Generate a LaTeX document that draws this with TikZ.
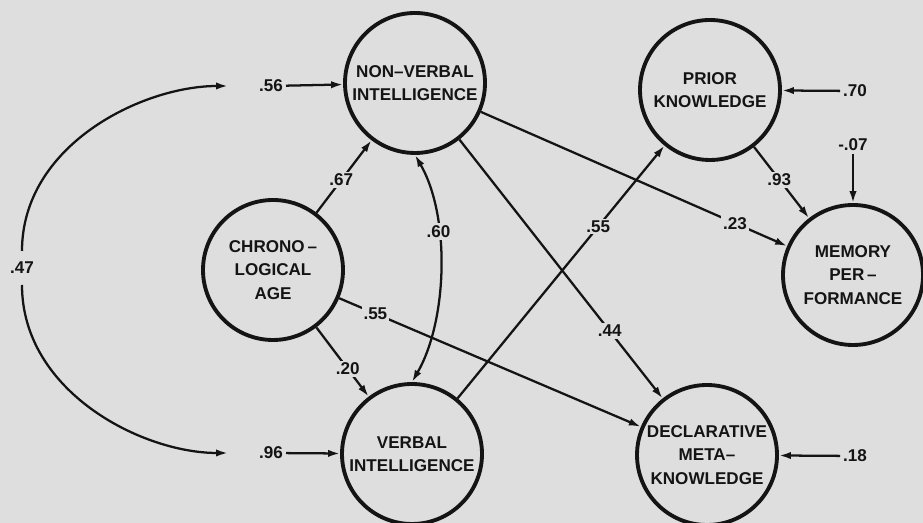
\documentclass[tikz,border=0pt]{standalone}
\usepackage{fontspec}
\setmainfont{Liberation Sans}
\usetikzlibrary{arrows.meta}
\definecolor{paper}{gray}{0.87}
\definecolor{ink}{gray}{0.08}

\begin{document}
\begin{tikzpicture}
  [>={Latex[length=9pt, width=5.5pt]}, x=0.75pt, y=0.75pt, line width=1.7pt, color=ink,
   latent/.style={circle, draw, line width=2.9pt, minimum size=105pt, inner sep=0pt,
     align=center, font=\bfseries\fontsize{12.8}{17.5}\selectfont},
   coef/.style={font=\bfseries\fontsize{12.8}{15}\selectfont, inner sep=1.5pt},
   onpath/.style={coef, fill=paper}]
  \fill [paper] (0,0) rectangle (923,523);
  \useasboundingbox (0,0) rectangle (923,523);

  \node [latent] (nonverbal) at (415,440) {NON--VERBAL\\INTELLIGENCE};
  \node [latent] (prior) at (710,433) {PRIOR\\KNOWLEDGE};
  \node [latent] (chrono) at (273,253) {CHRONO\,--\\LOGICAL\\AGE};
  \node [latent] (memory) at (853,248) {MEMORY\\PER\,--\\FORMANCE};
  \node [latent] (verbal) at (412,69) {VERBAL\\INTELLIGENCE};
  \node [latent] (meta) at (707,68) {DECLARATIVE\\META--\\KNOWLEDGE};

  \node [coef] (l56) at (271,437) {.56};
  \node [coef] (l96) at (271,70) {.96};
  \node [coef] (l47) at (22,255) {.47};
  \node [coef] (l70) at (855,432) {.70};
  \node [coef] (l07) at (853,378) {-.07};
  \node [coef] (l18) at (855,67) {.18};

  \foreach \e/\v in {l56/nonverbal, l96/verbal, l70/prior, l07/memory, l18/meta} {
    \draw [->] (\e) -- (\v);
  }

  \draw [->, shorten <=6pt, shorten >=21pt] (l47) to [out=90, in=180] (l56);
  \draw [->, shorten <=6pt, shorten >=21pt] (l47) to [out=-90, in=180] (l96);

  \draw [->] (chrono) -- node [onpath, pos=0.45] {.67} (nonverbal);
  \draw [->] (chrono) -- node [onpath, pos=0.6] {.20} (verbal);
  \draw [->] (chrono) -- node [onpath, pos=0.12] {.55} (meta);
  \draw [->] (nonverbal) -- node [onpath, pos=0.74] {.44} (meta);
  \draw [->] (nonverbal) -- node [onpath, pos=0.83] {.23} (memory);
  \draw [->] (verbal) -- node [onpath, pos=0.68] {.55} (prior);
  \draw [->] (prior) -- node [onpath, pos=0.46] {.93} (memory);
  \draw [<->] (nonverbal.south) to [out=-60, in=60, looseness=0.8] node [onpath, pos=0.35] {.60} (verbal.north);
\end{tikzpicture}
\end{document}
